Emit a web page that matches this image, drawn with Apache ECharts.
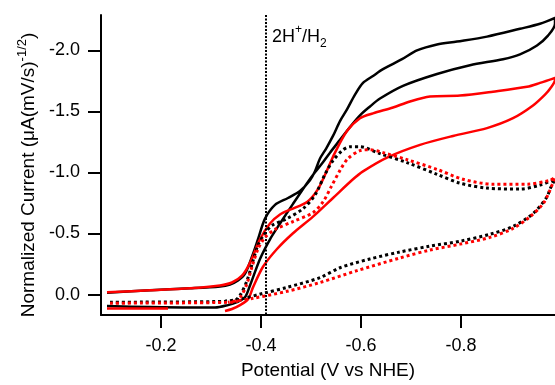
<!DOCTYPE html>
<html>
<head>
<meta charset="utf-8">
<script src="https://cdn.jsdelivr.net/npm/echarts@6/dist/echarts.min.js"></script>
<style>
  html, body { margin: 0; padding: 0; background: #fff; }
  #chart { width: 555px; height: 385px; }
</style>
</head>
<body>
<div id="chart"></div>
<script>
// Axis ticks (potential in V vs NHE, current normalised by sqrt(scan rate))
const xTicks = [-0.2, -0.4, -0.6, -0.8];
const yTicks = [0.0, -0.5, -1.0, -1.5, -2.0];
const h2Potential = -0.412;

// Black solid CV: low branch out to the switching potential, then the return sweep
const blackSolid = [
  [-0.092, 0.094], [-0.178, 0.102], [-0.258, 0.106], [-0.308, 0.106], [-0.334, 0.086],
  [-0.352, 0.062], [-0.368, 0.022], [-0.378, -0.075], [-0.398, -0.292], [-0.418, -0.453],
  [-0.438, -0.582], [-0.464, -0.743], [-0.492, -0.912], [-0.508, -1.001], [-0.522, -1.073],
  [-0.538, -1.162], [-0.558, -1.267], [-0.578, -1.372], [-0.598, -1.468], [-0.618, -1.540],
  [-0.638, -1.605], [-0.684, -1.709], [-0.752, -1.806], [-0.818, -1.878], [-0.884, -1.927],
  [-0.918, -1.967], [-0.952, -2.040], [-0.974, -2.120], [-0.988, -2.217],
  [-0.988, -2.265], [-0.958, -2.217], [-0.918, -2.176], [-0.852, -2.112], [-0.792, -2.072],
  [-0.752, -2.048], [-0.712, -1.999], [-0.682, -1.927], [-0.644, -1.846], [-0.624, -1.790],
  [-0.604, -1.733], [-0.588, -1.637], [-0.572, -1.516], [-0.558, -1.420], [-0.544, -1.299],
  [-0.530, -1.194], [-0.518, -1.114], [-0.508, -1.009], [-0.498, -0.936],
  [-0.478, -0.848], [-0.454, -0.791], [-0.428, -0.735], [-0.408, -0.622], [-0.394, -0.453],
  [-0.384, -0.333], [-0.368, -0.171], [-0.354, -0.115], [-0.338, -0.083], [-0.318, -0.067],
  [-0.258, -0.051], [-0.178, -0.035], [-0.092, -0.015]
];

// Red solid CV: short initial segment, then the full cycle
const redSolidStart = [[-0.214, 0.114], [-0.092, 0.114]];
const redSolid = [
  [-0.328, 0.134], [-0.342, 0.118], [-0.358, 0.086], [-0.374, 0.038], [-0.384, -0.059],
  [-0.404, -0.228], [-0.432, -0.373], [-0.464, -0.502], [-0.504, -0.638], [-0.544, -0.791],
  [-0.584, -0.944], [-0.604, -1.009], [-0.652, -1.122], [-0.718, -1.226], [-0.784, -1.299],
  [-0.852, -1.363], [-0.904, -1.444], [-0.944, -1.548], [-0.968, -1.637], [-0.978, -1.685],
  [-0.988, -1.758], [-0.988, -1.774], [-0.958, -1.733], [-0.932, -1.701], [-0.864, -1.661],
  [-0.798, -1.629], [-0.738, -1.621], [-0.698, -1.581], [-0.664, -1.532], [-0.624, -1.484],
  [-0.598, -1.444], [-0.572, -1.339], [-0.548, -1.162], [-0.532, -1.017], [-0.514, -0.864],
  [-0.492, -0.759], [-0.458, -0.695], [-0.438, -0.655], [-0.418, -0.582], [-0.398, -0.453],
  [-0.378, -0.260], [-0.362, -0.155], [-0.342, -0.099], [-0.318, -0.075], [-0.258, -0.051],
  [-0.178, -0.035], [-0.092, -0.019]
];

// Black dotted CV
const blackDotted = [
  [-0.098, 0.062], [-0.344, 0.054], [-0.358, 0.006], [-0.372, -0.115], [-0.384, -0.276],
  [-0.394, -0.405], [-0.408, -0.502], [-0.422, -0.566], [-0.452, -0.622], [-0.484, -0.703],
  [-0.508, -0.816], [-0.528, -0.985], [-0.544, -1.097], [-0.562, -1.178], [-0.578, -1.210],
  [-0.598, -1.210], [-0.638, -1.154], [-0.692, -1.081], [-0.752, -0.985], [-0.798, -0.912],
  [-0.852, -0.872], [-0.918, -0.864], [-0.958, -0.896], [-0.988, -0.944], [-0.978, -0.864],
  [-0.972, -0.800], [-0.944, -0.663], [-0.904, -0.558], [-0.858, -0.494], [-0.798, -0.437],
  [-0.738, -0.397], [-0.678, -0.349], [-0.618, -0.292], [-0.558, -0.220], [-0.518, -0.139],
  [-0.452, -0.059], [-0.404, -0.010], [-0.358, 0.038], [-0.328, 0.054]
];

// Red dotted CV
const redDotted = [
  [-0.098, 0.070], [-0.348, 0.062], [-0.360, 0.014], [-0.372, -0.091], [-0.382, -0.228],
  [-0.394, -0.373], [-0.408, -0.469], [-0.428, -0.534], [-0.464, -0.598], [-0.504, -0.671],
  [-0.524, -0.759], [-0.540, -0.880], [-0.558, -1.017], [-0.574, -1.114], [-0.598, -1.178],
  [-0.618, -1.186], [-0.644, -1.162], [-0.692, -1.105], [-0.752, -1.025], [-0.804, -0.944],
  [-0.864, -0.904], [-0.932, -0.904], [-0.978, -0.936], [-0.988, -0.960], [-0.978, -0.856],
  [-0.964, -0.743], [-0.938, -0.638], [-0.904, -0.542], [-0.858, -0.469], [-0.798, -0.413],
  [-0.738, -0.365], [-0.678, -0.300], [-0.592, -0.196], [-0.518, -0.099], [-0.452, -0.027],
  [-0.384, 0.030], [-0.334, 0.062]
];

const FONT = 'Liberation Sans, Arial, sans-serif';
const BLACK = '#000000';
const RED = '#ff0000';

function cvSeries(name, data, color, dotted, z) {
  return {
    type: 'line',
    name: name,
    data: data,
    symbol: 'none',
    showSymbol: false,
    smooth: 0.3,
    z: z,
    silent: true,
    animation: false,
    lineStyle: {
      color: color,
      width: dotted ? 3 : 2.5,
      type: dotted ? [3, 3] : 'solid',
      cap: 'butt',
      join: 'round'
    }
  };
}

const tickFmt = v => Number(v).toFixed(1);

const chart = echarts.init(document.getElementById('chart'), null, { renderer: 'canvas' });

const blackSolidSeries = cvSeries('black solid', blackSolid, BLACK, false, 2);
blackSolidSeries.markLine = {
  silent: true,
  symbol: 'none',
  animation: false,
  label: { show: false },
  lineStyle: { color: BLACK, width: 2, type: [2, 1.5] },
  data: [{ xAxis: h2Potential }]
};

chart.setOption({
  animation: false,
  backgroundColor: '#ffffff',
  grid: { left: 101, right: 0, top: 15, bottom: 65, containLabel: false },
  xAxis: {
    type: 'value',
    inverse: true,
    min: -0.988,
    max: -0.08,
    axisLine: { show: true, onZero: false, lineStyle: { color: BLACK, width: 2 } },
    axisTick: { show: true, inside: false, length: 13, lineStyle: { color: BLACK, width: 2 }, customValues: xTicks },
    axisLabel: { show: true, margin: 22, color: BLACK, fontSize: 18, fontFamily: FONT, customValues: xTicks, formatter: tickFmt },
    splitLine: { show: false },
    name: 'Potential (V vs NHE)',
    nameLocation: 'middle',
    nameGap: 46,
    nameTextStyle: { color: BLACK, fontSize: 19, fontFamily: FONT }
  },
  yAxis: {
    type: 'value',
    inverse: true,
    min: -2.289,
    max: 0.167,
    axisLine: { show: true, onZero: false, lineStyle: { color: BLACK, width: 2 } },
    axisTick: { show: true, inside: false, length: 13, lineStyle: { color: BLACK, width: 2 }, customValues: yTicks },
    axisLabel: { show: true, margin: 21, color: BLACK, fontSize: 18, fontFamily: FONT, customValues: yTicks, formatter: tickFmt },
    splitLine: { show: false }
  },
  graphic: [
    {
      type: 'text',
      x: 29,
      y: 175,
      rotation: Math.PI / 2,
      silent: true,
      style: {
        text: '{t|Normalized Current (μA(mV/s)}{s|-1/2}{t|)}',
        align: 'center',
        verticalAlign: 'middle',
        fill: BLACK,
        fontFamily: FONT,
        rich: {
          t: { fontSize: 19, lineHeight: 27, fontFamily: FONT, fill: BLACK },
          s: { fontSize: 13, lineHeight: 13, verticalAlign: 'top', fontFamily: FONT, fill: BLACK }
        }
      }
    },
    {
      type: 'text',
      x: 272,
      y: 24,
      silent: true,
      style: {
        text: '{t|2H}{s|+}{t|/H}{b|2}',
        align: 'left',
        verticalAlign: 'top',
        fill: BLACK,
        fontFamily: FONT,
        rich: {
          t: { fontSize: 18, lineHeight: 26, fontFamily: FONT, fill: BLACK },
          s: { fontSize: 12, lineHeight: 12, verticalAlign: 'top', fontFamily: FONT, fill: BLACK },
          b: { fontSize: 12, lineHeight: 12, verticalAlign: 'bottom', fontFamily: FONT, fill: BLACK }
        }
      }
    }
  ],
  series: [
    blackSolidSeries,
    cvSeries('red solid start', redSolidStart, RED, false, 3),
    cvSeries('red solid', redSolid, RED, false, 3),
    cvSeries('black dotted', blackDotted, BLACK, true, 4),
    cvSeries('red dotted', redDotted, RED, true, 5)
  ]
});
</script>
</body>
</html>
